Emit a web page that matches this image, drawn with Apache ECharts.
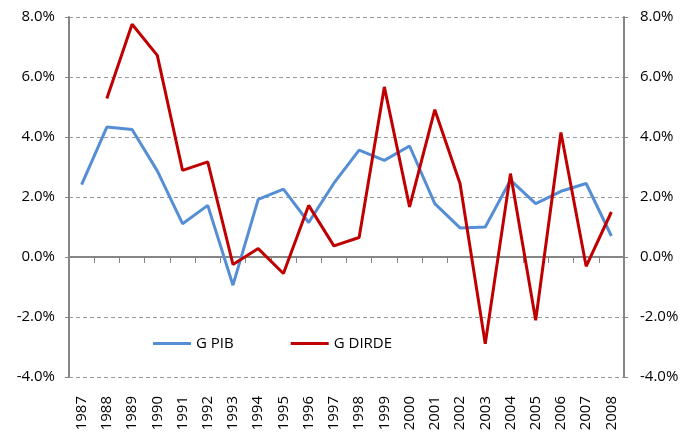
<!DOCTYPE html>
<html>
<head>
<meta charset="utf-8">
<script src="https://cdn.jsdelivr.net/npm/echarts@6/dist/echarts.min.js"></script>
<style>
  html, body { margin: 0; padding: 0; background: #fff; }
  #chart { width: 686px; height: 436px; }
</style>
</head>
<body>
<div id="chart"></div>
<script>
  let years = ['1987', '1988', '1989', '1990', '1991', '1992', '1993', '1994', '1995', '1996', '1997',
    '1998', '1999', '2000', '2001', '2002', '2003', '2004', '2005', '2006', '2007', '2008']
  let gPib = [2.41, 4.33, 4.25, 2.87, 1.11, 1.72, -0.94, 1.92, 2.26, 1.15, 2.46,
    3.56, 3.22, 3.70, 1.78, 0.97, 1.00, 2.56, 1.78, 2.19, 2.45, 0.70]
  let gDirde = [null, 5.28, 7.76, 6.72, 2.89, 3.17, -0.25, 0.28, -0.55, 1.72, 0.37,
    0.65, 5.67, 1.67, 4.91, 2.45, -2.89, 2.78, -2.11, 4.15, -0.31, 1.50]

  let font = 'Open Sans'
  let axisGray = '#868686'
  let pct = function (v) { return v.toFixed(1) + '%' }

  let yAxisBase = {
    type: 'value',
    min: -4,
    max: 8,
    interval: 2,
    axisLine: { show: true, lineStyle: { color: axisGray, width: 2 } },
    axisTick: { show: true, length: 4, lineStyle: { color: axisGray, width: 1 } },
    axisLabel: { color: '#000', fontFamily: font, fontSize: 15, formatter: pct },
  }

  let dom = document.getElementById('chart')
  let myChart = echarts.init(dom)
  let option = {
    animation: false,
    grid: { left: 69, right: 62, top: 17, bottom: 59 },
    legend: {
      left: 148,
      top: 331,
      icon: 'rect',
      itemWidth: 38,
      itemHeight: 3,
      itemGap: 57,
      textStyle: { color: '#000', fontFamily: font, fontSize: 15 },
      data: ['G PIB', 'G DIRDE'],
    },
    xAxis: [
      {
        type: 'category',
        data: years,
        boundaryGap: true,
        axisLine: { onZero: true, onZeroAxisIndex: 0, lineStyle: { color: axisGray, width: 2 } },
        axisTick: { show: true, interval: 0, length: 6, lineStyle: { color: axisGray, width: 1 } },
        axisLabel: { show: false, interval: 0 },
        splitLine: { show: false },
      },
      {
        type: 'category',
        data: years,
        position: 'bottom',
        boundaryGap: true,
        axisLine: { show: false },
        axisTick: { show: false },
        axisLabel: { color: '#000', fontFamily: font, fontSize: 15, rotate: 90, margin: 19, interval: 0 },
        splitLine: { show: false },
      },
    ],
    yAxis: [
      Object.assign({}, yAxisBase, {
        position: 'left',
        axisLabel: Object.assign({}, yAxisBase.axisLabel, { margin: 14 }),
        splitLine: { show: true, lineStyle: { color: '#999', type: [4, 3], width: 1 } },
      }),
      Object.assign({}, yAxisBase, {
        position: 'right',
        axisLabel: Object.assign({}, yAxisBase.axisLabel, { margin: 16 }),
        splitLine: { show: false },
      }),
    ],
    series: [
      {
        name: 'G PIB',
        type: 'line',
        data: gPib,
        symbol: 'none',
        lineStyle: { color: '#558ED5', width: 3 },
        itemStyle: { color: '#558ED5' },
      },
      {
        name: 'G DIRDE',
        type: 'line',
        data: gDirde,
        symbol: 'none',
        lineStyle: { color: '#C00000', width: 3 },
        itemStyle: { color: '#C00000' },
      },
    ],
  }
  myChart.setOption(option)
</script>
</body>
</html>
